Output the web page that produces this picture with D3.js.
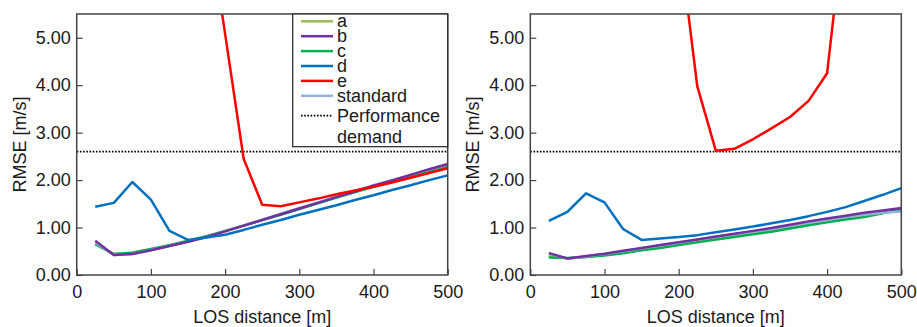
<!DOCTYPE html>
<html>
<head>
<meta charset="utf-8">
<script src="https://cdn.jsdelivr.net/npm/d3@7"></script>
<style>
  body { margin: 0; background: #fff; }
  svg text { font-family: "Liberation Sans", Arial, sans-serif; fill: #1a1a1a; }
</style>
</head>
<body>
<div id="vis"></div>
<script>
// LOS distance samples [m]
const distances = [25, 50, 75, 100, 125, 150, 175, 200, 225, 250, 275, 300, 325, 350, 375, 400, 425, 450, 475, 500];
const xTicks = [0, 100, 200, 300, 400, 500];
const yTicks = [0, 1, 2, 3, 4, 5];
const demand = 2.6;

// left panel RMSE [m/s]
const leftA   = [0.65, 0.44, 0.47, 0.54, 0.62, 0.71, 0.81, 0.92, 1.04, 1.16, 1.28, 1.40, 1.52, 1.63, 1.75, 1.87, 1.98, 2.09, 2.20, 2.31];
const leftB   = [0.72, 0.42, 0.44, 0.52, 0.61, 0.70, 0.80, 0.92, 1.04, 1.16, 1.28, 1.40, 1.52, 1.64, 1.76, 1.88, 1.99, 2.11, 2.23, 2.34];
const leftC   = [0.65, 0.44, 0.47, 0.55, 0.63, 0.72, 0.82, 0.93, 1.04, 1.16, 1.27, 1.39, 1.51, 1.63, 1.75, 1.86, 1.97, 2.08, 2.19, 2.29];
const leftD   = [1.44, 1.52, 1.96, 1.59, 0.93, 0.74, 0.79, 0.85, 0.95, 1.06, 1.16, 1.27, 1.37, 1.47, 1.58, 1.68, 1.79, 1.89, 2.00, 2.10];
const leftE   = [null, null, null, null, null, null, 7.70, 5.08, 2.45, 1.48, 1.45, 1.53, 1.61, 1.70, 1.78, 1.86, 1.95, 2.05, 2.15, 2.25];
const leftStd = [0.68, 0.42, 0.44, 0.52, 0.61, 0.70, 0.80, 0.92, 1.04, 1.16, 1.29, 1.41, 1.53, 1.65, 1.77, 1.89, 2.00, 2.11, 2.22, 2.33];

// right panel RMSE [m/s]
const rightA   = [0.40, 0.35, 0.38, 0.42, 0.47, 0.53, 0.58, 0.64, 0.70, 0.76, 0.82, 0.88, 0.93, 1.00, 1.07, 1.13, 1.19, 1.25, 1.31, 1.38];
const rightB   = [0.46, 0.35, 0.40, 0.45, 0.51, 0.57, 0.63, 0.69, 0.75, 0.81, 0.87, 0.93, 0.99, 1.06, 1.13, 1.19, 1.25, 1.31, 1.36, 1.41];
const rightC   = [0.37, 0.36, 0.38, 0.41, 0.46, 0.52, 0.57, 0.63, 0.69, 0.75, 0.80, 0.86, 0.91, 0.98, 1.05, 1.11, 1.17, 1.22, 1.30, 1.38];
const rightD   = [1.14, 1.33, 1.72, 1.53, 0.97, 0.74, 0.77, 0.80, 0.84, 0.90, 0.96, 1.02, 1.09, 1.16, 1.24, 1.33, 1.43, 1.56, 1.69, 1.83];
const rightE   = [null, null, null, null, null, null, null, 7.15, 3.98, 2.62, 2.66, 2.86, 3.09, 3.33, 3.67, 4.25, 7.70, null, null, null];
const rightStd = [0.46, 0.34, 0.39, 0.44, 0.50, 0.56, 0.62, 0.68, 0.74, 0.80, 0.86, 0.91, 0.97, 1.04, 1.10, 1.16, 1.22, 1.27, 1.31, 1.34];

const seriesNames = ['a', 'b', 'c', 'd', 'e', 'standard'];
const seriesColors = {
  a: '#9bbb59',
  b: '#7030a0',
  c: '#00b050',
  d: '#0070c0',
  e: '#ff0000',
  standard: '#95b3d7'
};
// drawing order (last on top)
const drawOrder = ['a', 'c', 'standard', 'b', 'd', 'e'];

const width = 917;
const height = 327;

const svg = d3.select('#vis')
  .append('svg')
    .attr('width', width)
    .attr('height', height);

function drawPanel(id, left, series, withLegend) {
  const right = left + 371;
  const top = 14, bottom = 275;

  const x = d3.scaleLinear().domain([0, 500]).range([left, right]);
  const y = d3.scaleLinear().domain([0, 5.5]).range([bottom, top]);

  const g = svg.append('g');

  g.append('clipPath')
    .attr('id', 'clip-' + id)
    .append('rect')
      .attr('x', left).attr('y', top)
      .attr('width', right - left).attr('height', bottom - top);

  // ticks pointing inward
  g.append('g')
    .attr('transform', `translate(0,${bottom})`)
    .call(d3.axisBottom(x).tickValues(xTicks).tickSize(-6).tickPadding(10).tickFormat(d3.format('d')))
    .call(a => a.select('.domain').remove())
    .call(a => a.selectAll('line').attr('stroke', '#444').attr('stroke-width', 1.2))
    .call(a => a.selectAll('text').attr('font-size', 18).attr('fill', '#1a1a1a')
      .attr('font-family', '"Liberation Sans", Arial, sans-serif'));

  g.append('g')
    .attr('transform', `translate(${left},0)`)
    .call(d3.axisLeft(y).tickValues(yTicks).tickSize(-6).tickPadding(6).tickFormat(d3.format('.2f')))
    .call(a => a.select('.domain').remove())
    .call(a => a.selectAll('line').attr('stroke', '#444').attr('stroke-width', 1.2))
    .call(a => a.selectAll('text').attr('font-size', 18).attr('fill', '#1a1a1a')
      .attr('font-family', '"Liberation Sans", Arial, sans-serif'));

  const plot = g.append('g').attr('clip-path', `url(#clip-${id})`);

  // performance demand
  plot.append('line')
    .attr('x1', left).attr('x2', right)
    .attr('y1', y(demand)).attr('y2', y(demand))
    .attr('stroke', '#000')
    .attr('stroke-width', 1.8)
    .attr('stroke-dasharray', '1.6,1.6');

  const line = d3.line()
    .defined(d => d[1] != null)
    .x(d => x(d[0]))
    .y(d => y(d[1]));

  drawOrder.forEach(name => {
    const pts = distances.map((dist, i) => [dist, series[name][i]]);
    plot.append('path')
      .datum(pts)
      .attr('d', line)
      .attr('fill', 'none')
      .attr('stroke', seriesColors[name])
      .attr('stroke-width', 2.5)
      .attr('stroke-linejoin', 'round');
  });

  // frame
  g.append('rect')
    .attr('x', left).attr('y', top)
    .attr('width', right - left).attr('height', bottom - top)
    .attr('fill', 'none')
    .attr('stroke', '#444')
    .attr('stroke-width', 1.5);

  // axis titles
  g.append('text')
    .attr('transform', `translate(${left - 57},${(top + bottom) / 2}) rotate(-90)`)
    .attr('text-anchor', 'middle')
    .attr('dominant-baseline', 'central')
    .attr('font-size', 18)
    .text('RMSE [m/s]');

  g.append('text')
    .attr('x', (left + right) / 2)
    .attr('y', 322.5)
    .attr('text-anchor', 'middle')
    .attr('font-size', 18)
    .text('LOS distance [m]');

  if (withLegend) {
    const lg = g.append('g');
    const lx = 292.7;
    lg.append('rect')
      .attr('x', lx).attr('y', top)
      .attr('width', right - lx).attr('height', 146.7 - top)
      .attr('fill', '#fff')
      .attr('stroke', '#222')
      .attr('stroke-width', 1.2);

    seriesNames.forEach((name, i) => {
      const ry = 21.3 + i * 14.9;
      lg.append('line')
        .attr('x1', 301).attr('x2', 333)
        .attr('y1', ry).attr('y2', ry)
        .attr('stroke', seriesColors[name])
        .attr('stroke-width', 2.5);
      lg.append('text')
        .attr('x', 337).attr('y', ry)
        .attr('dominant-baseline', 'central')
        .attr('font-size', 18)
        .text(name);
    });

    lg.append('line')
      .attr('x1', 301).attr('x2', 333)
      .attr('y1', 115.7).attr('y2', 115.7)
      .attr('stroke', '#000')
      .attr('stroke-width', 1.8)
      .attr('stroke-dasharray', '1.6,1.6');
    lg.append('text')
      .attr('x', 337).attr('y', 115.7)
      .attr('dominant-baseline', 'central')
      .attr('font-size', 18)
      .text('Performance');
    lg.append('text')
      .attr('x', 337).attr('y', 136.7)
      .attr('dominant-baseline', 'central')
      .attr('font-size', 18)
      .text('demand');
  }
}

drawPanel('left', 76.7, {
  a: leftA, b: leftB, c: leftC, d: leftD, e: leftE, standard: leftStd
}, true);

drawPanel('right', 530.3, {
  a: rightA, b: rightB, c: rightC, d: rightD, e: rightE, standard: rightStd
}, false);
</script>
</body>
</html>
